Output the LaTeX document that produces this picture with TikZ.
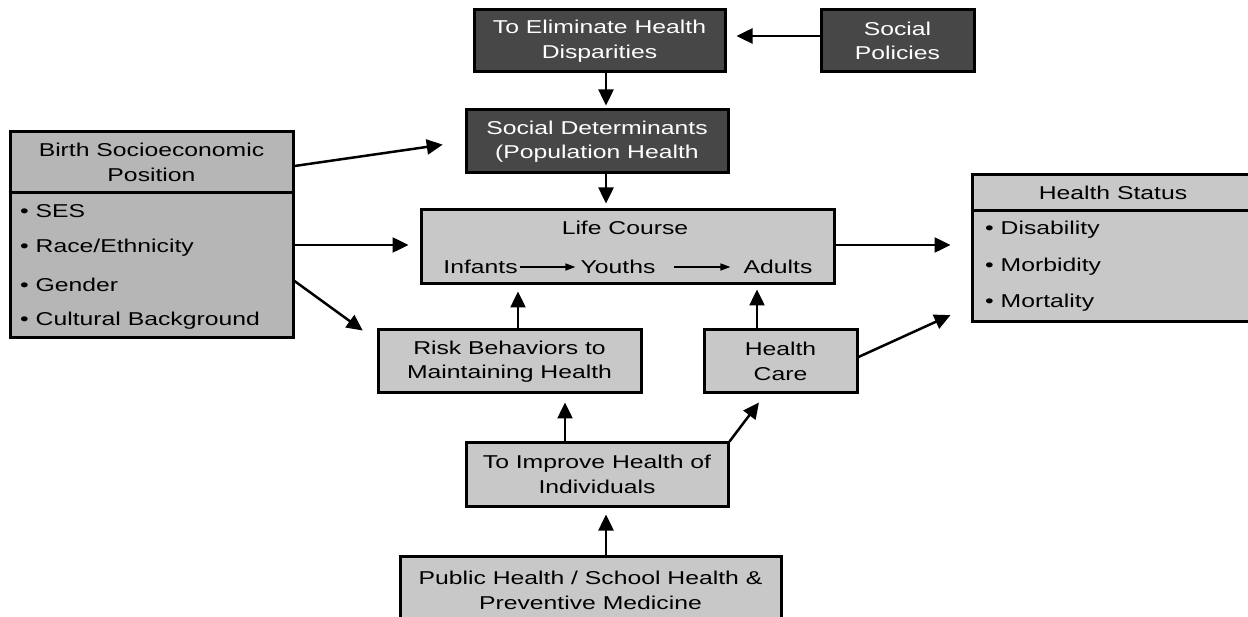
\documentclass[tikz,border=0pt]{standalone}
\usepackage{fontspec}
\setmainfont{Liberation Sans}[FakeStretch=1.33]
\usetikzlibrary{arrows.meta}
\definecolor{darkfill}{HTML}{474747}
\definecolor{lightfill}{HTML}{C8C8C8}
\definecolor{midfill}{HTML}{B6B6B6}
\begin{document}
\begin{tikzpicture}[x=1pt,y=-1pt,
  font=\fontsize{18.6}{24.5}\selectfont,
  box/.style={draw=black, line width=3pt, inner sep=0pt, align=center, text=black},
  darkbox/.style={box, fill=darkfill, text=white},
  lightbox/.style={box, fill=lightfill},
  lbl/.style={inner sep=0pt, align=center},
  item/.style={inner sep=0pt, anchor=west},
  arr/.style={line width=2.5pt, -{Triangle[length=16pt,width=15pt]}},
  thinarr/.style={line width=1.5pt, -{Triangle[length=10pt,width=7pt]}},
  divider/.style={line width=3pt}]
\useasboundingbox (0,0) rectangle (1248,617);

% top dark boxes
\node[darkbox, minimum width=251pt, minimum height=62pt] (elim) at (599.5,41) {To Eliminate Health\\Disparities};
\node[darkbox, minimum width=153pt, minimum height=62pt] (policies) at (897.5,41) {Social\\Policies};
\node[darkbox, minimum width=262pt, minimum height=63pt] (socdet) at (597,141.5) {Social Determinants\\(Population Health};

% life course
\node[lightbox, minimum width=413pt, minimum height=74pt] (life) at (627.5,247) {};
\node[lbl] (lifet) at (625,228) {Life Course};
\node[lbl] (inf) at (480.5,267) {Infants};
\node[lbl] (you) at (618,267) {Youths};
\node[lbl] (adu) at (778,267) {Adults};
\draw[thinarr, shorten <=2pt, shorten >=5pt] (inf.east) -- (you.west);
\draw[thinarr, shorten <=18pt, shorten >=13pt] (you.east) -- (adu.west);

% birth socioeconomic position
\node[box, fill=midfill, minimum width=283pt, minimum height=206pt] (birth) at (151.5,235) {};
\draw[divider] (birth.west |- 0,193) -- (birth.east |- 0,193);
\node[lbl] (birthh) at (151.5,162.5) {Birth Socioeconomic\\Position};
\node[item] (ses) at (20,211) {• SES};
\node[item] (race) at (20,248) {• Race/Ethnicity};
\node[item] (gender) at (20,285) {• Gender};
\node[item] (cult) at (20,321) {• Cultural Background};

% health status
\node[lightbox, minimum width=284pt, minimum height=147pt] (hstat) at (1114,248.5) {};
\draw[divider] (hstat.west |- 0,211) -- (hstat.east |- 0,211);
\node[lbl] (hstath) at (1113,193) {Health Status};
\node[item] (dis) at (985,230) {• Disability};
\node[item] (mor) at (985,267) {• Morbidity};
\node[item] (mort) at (985,303) {• Mortality};

% lower boxes
\node[lightbox, minimum width=263pt, minimum height=63pt] (risk) at (509.5,361.5) {Risk Behaviors to\\Maintaining Health};
\node[lightbox, minimum width=153pt, minimum height=63pt] (hcare) at (780.5,361.5) {Health\\Care};
\node[lightbox, minimum width=262pt, minimum height=63pt] (improve) at (597,474.5) {To Improve Health of\\Individuals};
\node[lightbox, minimum width=381pt, minimum height=69pt] (public) at (590.5,590.5) {Public Health / School Health \&\\Preventive Medicine};

% connectors
\draw[arr, shorten >=10pt] ([yshift=5pt]policies.west) -- ([yshift=5pt]elim.east);
\draw[arr, shorten >=3pt] ([xshift=6.5pt]elim.south) -- ([xshift=9pt]socdet.north);
\draw[arr, shorten >=5pt] ([xshift=9pt]socdet.south) -- ([xshift=9pt]socdet.south |- life.north);
\draw[arr, shorten >=22pt] ([yshift=69pt]birth.east) -- (socdet.west);
\draw[arr, shorten >=11pt] ([yshift=-10pt]birth.east) -- ([yshift=-10pt]birth.east -| life.west);
\draw[arr, shorten >=17pt] ([yshift=-46pt]birth.east) -- ([yshift=-12pt]risk.north west);
\draw[arr, shorten >=6pt] ([xshift=8.5pt]risk.north) -- ([xshift=8.5pt]risk.north |- life.south);
\draw[arr, shorten >=4pt] ([xshift=-23.5pt]hcare.north) -- ([xshift=-23.5pt]hcare.north |- life.south);
\draw[arr, shorten >=20pt] ([yshift=2pt]life.east) -- ([yshift=2pt]life.east -| hstat.west);
\draw[arr, shorten >=22pt] ([yshift=4.5pt]hcare.east) -- ([yshift=-57.5pt]hstat.west);
\draw[arr, shorten >=8pt] ([xshift=-32pt]improve.north) -- ([xshift=-32pt]improve.north |- risk.south);
\draw[arr, shorten >=10pt] (improve.north east) -- ([xshift=-15.5pt]hcare.south);
\draw[arr, shorten >=7pt] ([xshift=15.5pt]public.north) -- ([xshift=15.5pt]public.north |- improve.south);
\end{tikzpicture}
\end{document}
